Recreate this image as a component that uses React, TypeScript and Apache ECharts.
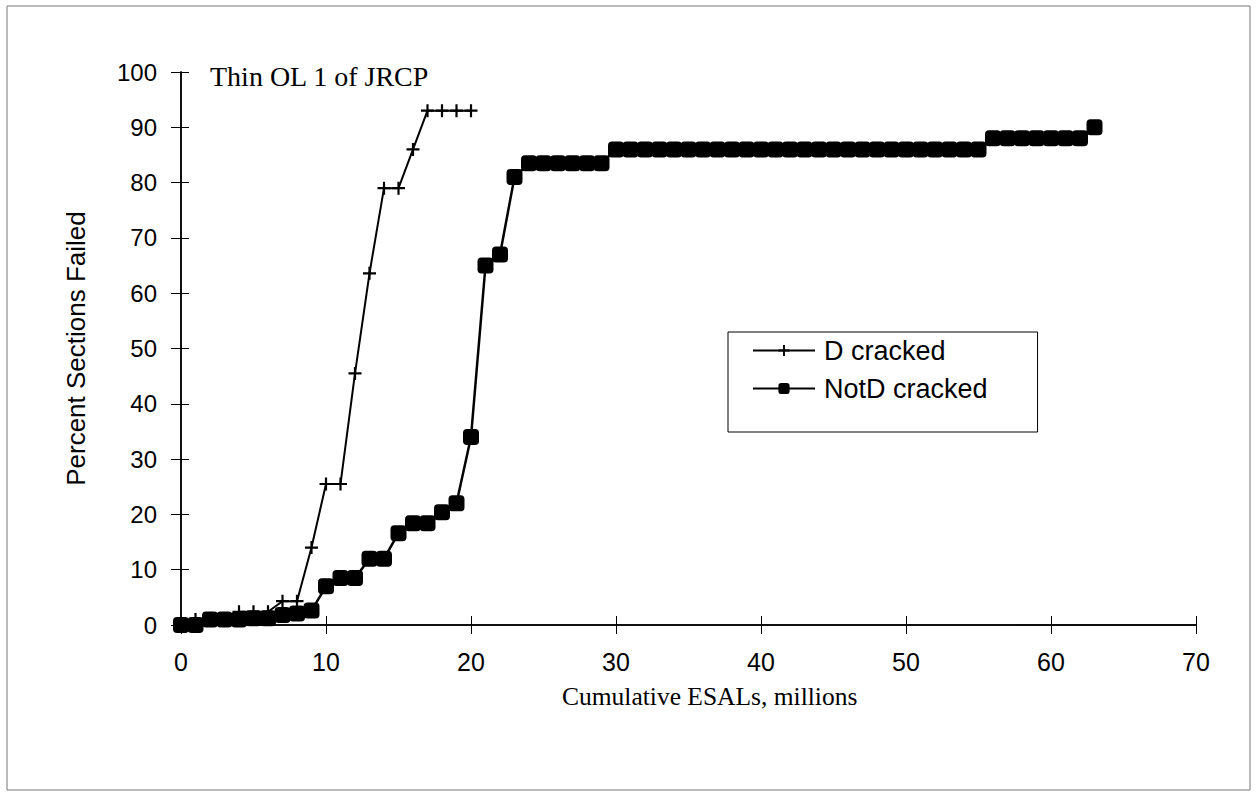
import React, { useEffect, useRef } from "react";
import * as echarts from "echarts";

const dCrackedX = [0, 1, 2, 3, 4, 5, 6, 7, 8, 9, 10, 11, 12, 13, 14, 15, 16, 17, 18, 19, 20];
const dCrackedY = [0, 1, 1, 1, 2.4, 2.4, 2.4, 4.3, 4.3, 14, 25.5, 25.5, 45.5, 63.6, 79, 79, 86, 93, 93, 93, 93];

const notDX = [0, 1, 2, 3, 4, 5, 6, 7, 8, 9, 10, 11, 12, 13, 14, 15, 16, 17, 18, 19, 20, 21, 22, 23,
  24, 25, 26, 27, 28, 29,
  30, 31, 32, 33, 34, 35, 36, 37, 38, 39, 40, 41, 42, 43, 44, 45, 46, 47, 48, 49, 50, 51, 52, 53, 54, 55,
  56, 57, 58, 59, 60, 61, 62, 63];
const notDY = [0, 0, 1, 1, 1, 1.2, 1.2, 1.8, 2.1, 2.6, 7, 8.5, 8.5, 12, 12, 16.6, 18.4, 18.4, 20.4, 22, 34, 65, 67, 81,
  83.5, 83.5, 83.5, 83.5, 83.5, 83.5,
  86, 86, 86, 86, 86, 86, 86, 86, 86, 86, 86, 86, 86, 86, 86, 86, 86, 86, 86, 86, 86, 86, 86, 86, 86, 86,
  88, 88, 88, 88, 88, 88, 88, 90];

const seriesNames = ["D cracked", "NotD cracked"];
const xTicks = { min: 0, max: 70, interval: 10 };
const yTicks = { min: 0, max: 100, interval: 10 };

const PLUS = "path://M0,5.4H5.4V0H7.6V5.4H13V7.6H7.6V13H5.4V7.6H0Z";

export default function App() {
  const ref = useRef<HTMLDivElement>(null);
  useEffect(() => {
    if (!ref.current) return;
    const chart = echarts.init(ref.current, null, { renderer: "svg" });
    const sans = "Liberation Sans, Arial, sans-serif";
    const serif = "Liberation Serif, Times New Roman, serif";
    const axisBase = {
      type: "value" as const,
      splitLine: { show: false },
      axisLine: { show: true, lineStyle: { color: "#000", width: 1.5 } },
    };
    chart.setOption({
      animation: false,
      backgroundColor: "#fff",
      grid: { left: 181, right: 62, top: 72, bottom: 172, containLabel: false },
      xAxis: [
        {
          ...axisBase,
          position: "bottom",
          ...xTicks,
          axisTick: { show: true, length: 9, lineStyle: { color: "#000", width: 1 } },
          axisLabel: { fontSize: 25, color: "#000", fontFamily: sans, margin: 24 },
        },
        {
          ...axisBase,
          position: "bottom",
          ...xTicks,
          axisTick: { show: true, inside: true, length: 9, lineStyle: { color: "#000", width: 1 } },
          axisLabel: { show: false },
        },
      ],
      yAxis: [
        {
          ...axisBase,
          position: "left",
          ...yTicks,
          axisTick: { show: true, length: 10, lineStyle: { color: "#000", width: 1 } },
          axisLabel: { fontSize: 24, color: "#000", fontFamily: sans, margin: 24 },
          name: "Percent Sections Failed",
          nameLocation: "middle",
          nameGap: 92,
          nameTextStyle: { fontSize: 26, color: "#000", fontFamily: sans },
        },
        {
          ...axisBase,
          position: "left",
          ...yTicks,
          axisTick: { show: true, inside: true, length: 8, lineStyle: { color: "#000", width: 1 } },
          axisLabel: { show: false },
        },
      ],
      legend: {
        orient: "vertical",
        left: 728,
        top: 332,
        data: seriesNames,
        backgroundColor: "#fff",
        borderColor: "#000",
        borderWidth: 1,
        padding: [5, 50, 30, 24],
        itemGap: 11,
        itemWidth: 62,
        itemHeight: 14,
        textStyle: { fontSize: 27, color: "#000", fontFamily: sans, padding: [0, 0, 0, 4] },
      },
      graphic: [
        {
          type: "rect",
          shape: { x: 7, y: 6, width: 1243, height: 784 },
          style: { fill: "none", stroke: "#777", lineWidth: 1 },
          z: -1,
        },
        {
          type: "text",
          left: 210,
          top: 62,
          style: { text: "Thin OL 1 of JRCP", fontSize: 28, fontFamily: serif, fill: "#000" },
        },
        {
          type: "text",
          left: 562,
          top: 683,
          style: { text: "Cumulative ESALs, millions", fontSize: 25.5, fontFamily: serif, fill: "#000" },
        },
      ],
      series: [
        {
          name: seriesNames[0],
          type: "line",
          xAxisIndex: 0,
          yAxisIndex: 0,
          data: dCrackedX.map((x, i) => [x, dCrackedY[i]]),
          symbol: PLUS,
          symbolSize: 13,
          showAllSymbol: true,
          lineStyle: { color: "#000", width: 2 },
          itemStyle: { color: "#000" },
        },
        {
          name: seriesNames[1],
          type: "line",
          xAxisIndex: 0,
          yAxisIndex: 0,
          data: notDX.map((x, i) => [x, notDY[i]]),
          symbol: "roundRect",
          symbolSize: 16,
          showAllSymbol: true,
          lineStyle: { color: "#000", width: 2.5 },
          itemStyle: { color: "#000" },
        },
      ],
    });
    return () => chart.dispose();
  }, []);
  return (
    <div
      ref={ref}
      style={{ position: "fixed", left: 0, top: 0, width: 1258, height: 797, background: "#fff" }}
    />
  );
}
